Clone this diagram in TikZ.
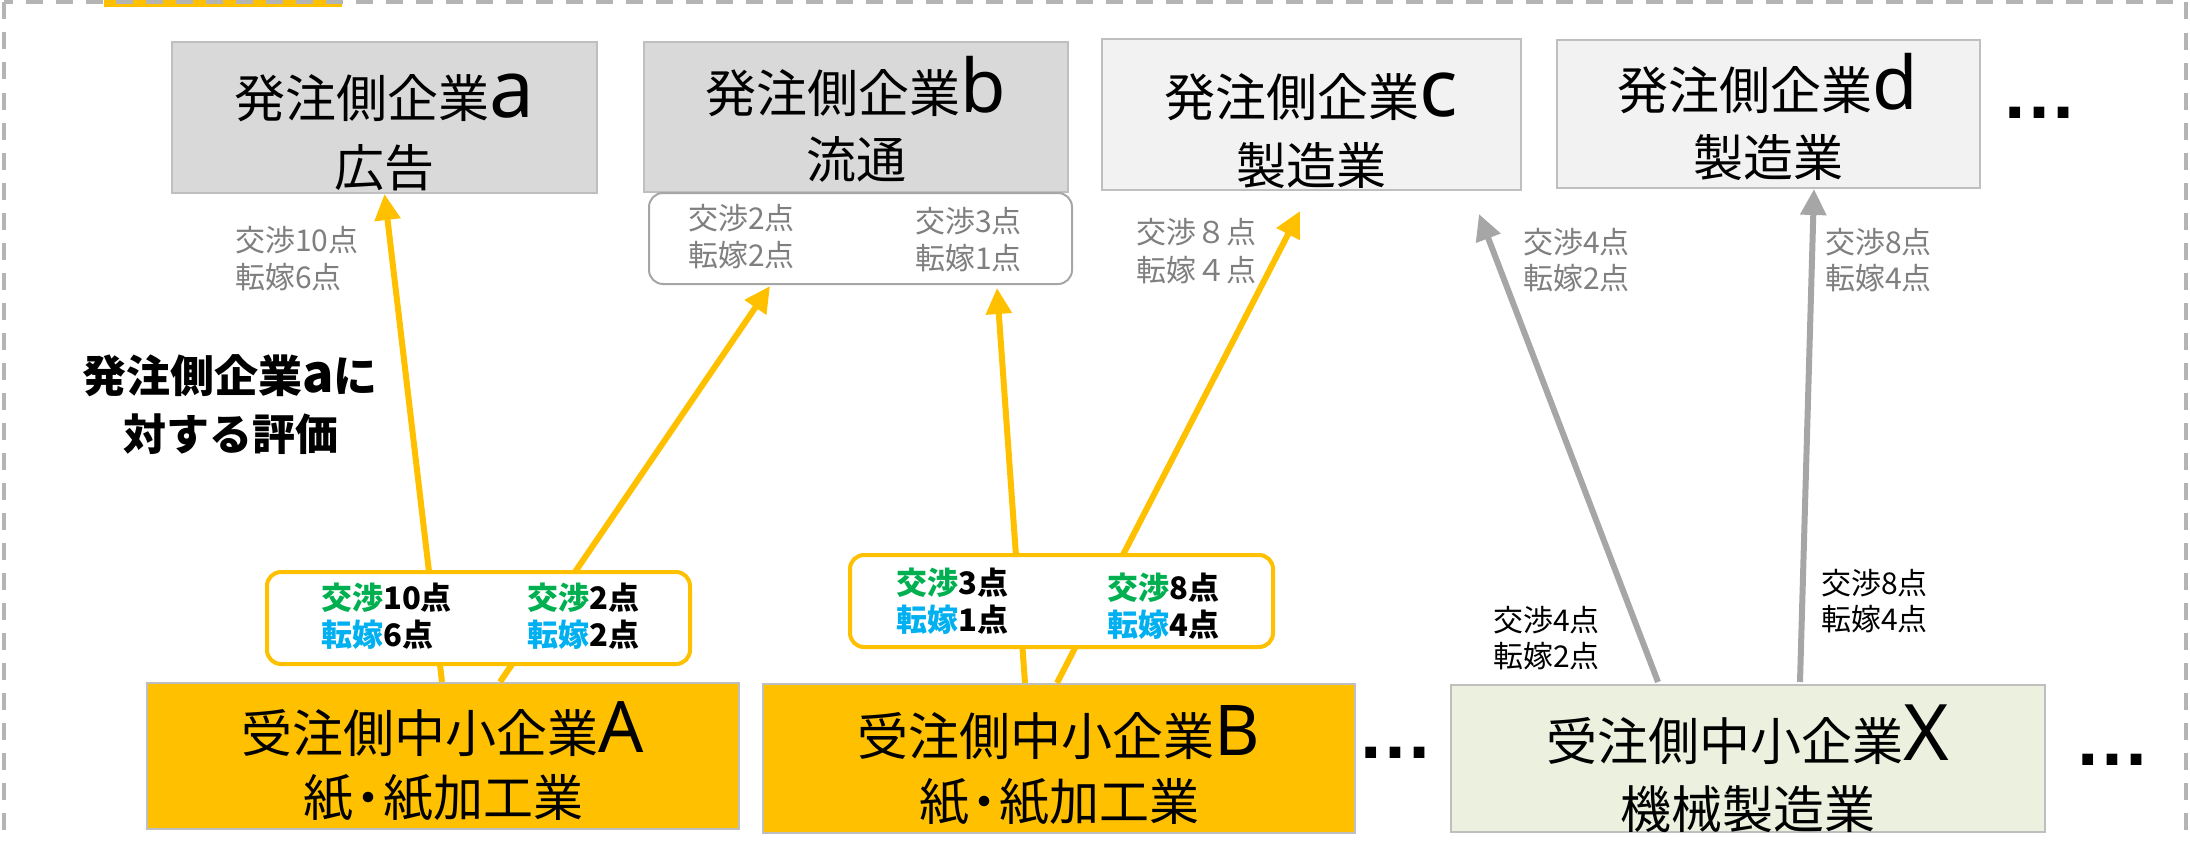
\documentclass[tikz,border=0pt]{standalone}
\usepackage{fontspec}
\setmainfont{Noto Sans CJK JP}
\newfontfamily\latinfont{Noto Sans}
\newfontfamily\dotfont{Liberation Sans}
\usetikzlibrary{arrows.meta}
\definecolor{ylw}{HTML}{FFC000}
\definecolor{boxgray}{HTML}{D9D9D9}
\definecolor{boxlight}{HTML}{F2F2F2}
\definecolor{boxgreen}{HTML}{EBF1DE}
\definecolor{bordergray}{HTML}{BFBFBF}
\definecolor{arrowgray}{HTML}{A6A6A6}
\definecolor{txtgray}{HTML}{7F7F7F}
\definecolor{dashgray}{HTML}{B4B4B4}
\definecolor{grn}{HTML}{00B050}
\definecolor{blu}{HTML}{00B0F0}
\newcommand\ltr[2]{{\latinfont\fontsize{#1}{80}\selectfont #2}}
\newcommand\nakaguro{\kern-10pt・\kern-10pt}
\begin{document}
\begin{tikzpicture}[x=1pt,y=-1pt,
  firm/.style={draw=bordergray, line width=2pt, inner sep=0pt, rectangle},
  lbl/.style={anchor=base west, inner sep=0pt, font=\fontsize{30}{36}\selectfont},
  glbl/.style={lbl, text=txtgray},
  clbl/.style={anchor=base west, inner sep=0pt, font=\fontsize{31}{36}\selectfont\bfseries},
  line1/.style={anchor=base, inner sep=0pt, font=\fontsize{51}{60}\selectfont},
  line2/.style={anchor=base, inner sep=0pt, font=\fontsize{50}{60}\selectfont},
  dots/.style={anchor=base, inner sep=0pt, font=\dotfont\bfseries\fontsize{76}{80}\selectfont},
  yarrow/.style={draw=ylw, line width=6pt, -{Triangle[length=26pt,width=25pt]}},
  garrow/.style={draw=arrowgray, line width=6pt, -{Triangle[length=26pt,width=25pt]}},
  ybox/.style={draw=ylw, line width=4pt, fill=white, rounded corners=14pt, inner sep=0pt},
]
\useasboundingbox (0,0) rectangle (2190,843);
\fill[ylw] (104,-5) rectangle (342,7);
\draw[dashgray, line width=4pt, dash pattern=on 17pt off 13pt] (4,2.5) rectangle (2186,900);

% top firms
\node[firm, fill=boxgray, minimum width=425pt, minimum height=151pt] (a) at (384.5,117.5) {};
\node[firm, fill=boxgray, minimum width=424pt, minimum height=150pt] (b) at (856,117) {};
\node[firm, fill=boxlight, minimum width=419pt, minimum height=151pt] (c) at (1311.5,114.5) {};
\node[firm, fill=boxlight, minimum width=423pt, minimum height=148pt] (d) at (1768.5,114) {};

\node[line1] (a1) at (384,117.4) {発注側企業\ltr{80}{a}};
\node[line2] (a2) at (384,186) {広告};
\node[line1] (b1) at (856,112.4) {発注側企業\ltr{74}{b}};
\node[line2] (b2) at (856,178) {流通};
\node[line1] (c1) at (1311,116.4) {発注側企業\ltr{80}{c}};
\node[line2] (c2) at (1311,184) {製造業};
\node[line1] (d1) at (1768,109.4) {発注側企業\ltr{74}{d}};
\node[line2] (d2) at (1768,176) {製造業};
\node[dots] (dt1) at (2039,118.5) {…};

% gray label box under b
\node[draw=arrowgray, line width=2pt, fill=white, rounded corners=14pt, inner sep=0pt,
      minimum width=423pt, minimum height=91pt] (lb) at (860.5,238.5) {};
\node[glbl] (lb1) at (688,229) {交渉2点};
\node[glbl] (lb2) at (688,266) {転嫁2点};
\node[glbl] (lb3) at (915,232.4) {交渉3点};
\node[glbl] (lb4) at (915,269.4) {転嫁1点};

% bottom firms
\node[firm, fill=ylw, minimum width=592pt, minimum height=146pt] (A) at (443,756) {};
\node[firm, fill=ylw, minimum width=592pt, minimum height=149pt] (B) at (1059,758.5) {};
\node[firm, fill=boxgreen, minimum width=594pt, minimum height=147pt] (X) at (1748,758.5) {};

\node[line1] (A1t) at (443,752.4) {受注側中小企業\ltr{71}{A}};
\node[line2] (A2t) at (443,816.5) {紙\nakaguro 紙加工業};
\node[line1] (B1t) at (1059,755.4) {受注側中小企業\ltr{70}{B}};
\node[line2] (B2t) at (1059,820) {紙\nakaguro 紙加工業};
\node[line1] (X1t) at (1748,760.4) {受注側中小企業\ltr{78}{X}};
\node[line1] (X2t) at (1748,828.4) {機械製造業};
\node[dots] (dt2) at (1395.5,758.5) {…};
\node[dots] (dt3) at (2112.5,765.5) {…};

% connector coordinates
\coordinate (As1) at ([xshift=-1pt]A.north);
\coordinate (As2) at ([xshift=57pt]A.north);
\coordinate (Bs1) at ([xshift=-34pt]B.north);
\coordinate (Bs2) at ([xshift=-2pt]B.north);
\coordinate (Xs1) at ([xshift=-90pt,yshift=2pt]X.north);
\coordinate (Xs2) at ([xshift=52pt,yshift=2pt]X.north);
\coordinate (lbt1) at ([xshift=-90.5pt,yshift=-1pt]lb.south);
\coordinate (lbt2) at ([xshift=136.5pt,yshift=-3pt]lb.south);
\coordinate (ct1) at ([xshift=-11.5pt,yshift=-20pt]c.south);
\coordinate (ct2) at ([xshift=167.5pt,yshift=-23pt]c.south);
\coordinate (dt) at ([xshift=45.5pt]d.south);

\draw[yarrow] (As1) -- (a.south);
\draw[yarrow] (As2) -- (lbt1);
\draw[yarrow] (Bs1) -- (lbt2);
\draw[yarrow] (Bs2) -- (ct1);
\draw[garrow] (Xs1) -- (ct2);
\draw[garrow] (Xs2) -- (dt);

% gray labels at top
\node[glbl] (la1) at (235,251.4) {交渉10点};
\node[glbl] (la2) at (235,288.9) {転嫁6点};
\node[glbl] (lc1) at (1136,243.4) {交渉８点};
\node[glbl] (lc2) at (1136,281.4) {転嫁４点};
\node[glbl] (lx1) at (1523,253.4) {交渉4点};
\node[glbl] (lx2) at (1523,289.4) {転嫁2点};
\node[glbl] (ld1) at (1825,253.4) {交渉8点};
\node[glbl] (ld2) at (1825,289.4) {転嫁4点};

% black labels near X
\node[lbl] (xb1) at (1493,631) {交渉4点};
\node[lbl] (xb2) at (1493,667) {転嫁2点};
\node[lbl] (xb3) at (1821,594) {交渉8点};
\node[lbl] (xb4) at (1821,630.4) {転嫁4点};

% yellow label boxes
\node[ybox, minimum width=423pt, minimum height=92pt] (lA) at (478.5,618) {};
\node[clbl] (lA1) at (321,609.8) {\textcolor{grn}{交渉}10点};
\node[clbl] (lA2) at (321,646.8) {\textcolor{blu}{転嫁}6点};
\node[clbl] (lA3) at (527,609.8) {\textcolor{grn}{交渉}2点};
\node[clbl] (lA4) at (527,646.8) {\textcolor{blu}{転嫁}2点};

\node[ybox, minimum width=423pt, minimum height=92pt] (lB) at (1061.5,601) {};
\node[clbl] (lB1) at (896,594.3) {\textcolor{grn}{交渉}3点};
\node[clbl] (lB2) at (896,631.8) {\textcolor{blu}{転嫁}1点};
\node[clbl] (lB3) at (1107,599.8) {\textcolor{grn}{交渉}8点};
\node[clbl] (lB4) at (1107,636.8) {\textcolor{blu}{転嫁}4点};

% evaluation caption
\node[anchor=base, inner sep=0pt, font=\fontsize{44}{50}\selectfont\bfseries] (ev1) at (230,392.7) {発注側企業{\fontsize{52}{50}\selectfont a}に};
\node[anchor=base, inner sep=0pt, font=\fontsize{43}{50}\selectfont\bfseries] (ev2) at (231,450) {対する評価};
\end{tikzpicture}
\end{document}
